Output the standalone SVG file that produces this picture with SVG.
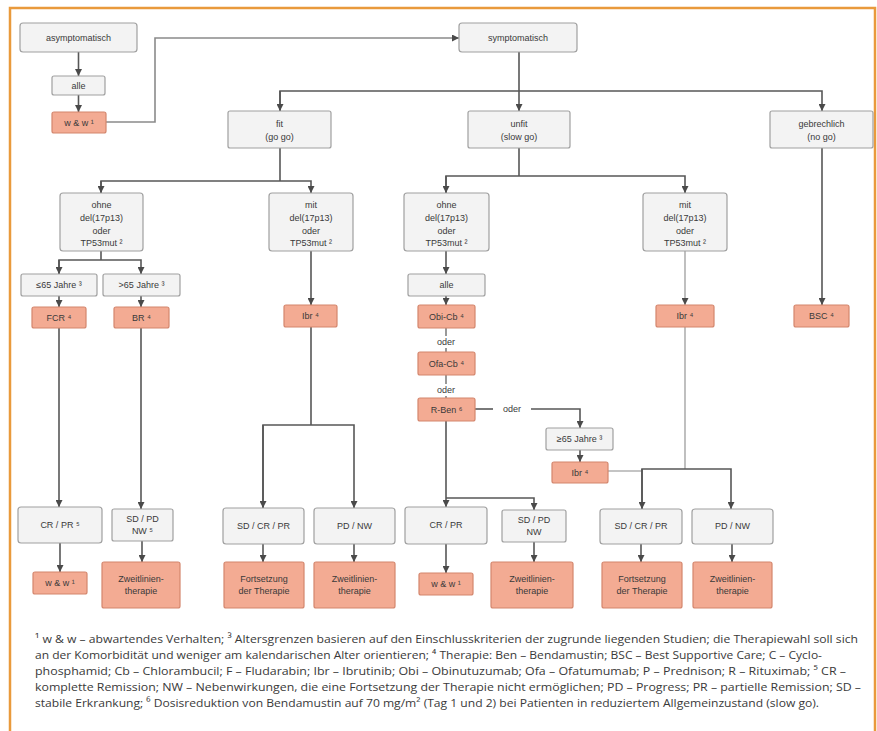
<svg xmlns="http://www.w3.org/2000/svg" width="877" height="731" viewBox="0 0 877 731">
<style>
.g{fill:#f3f3f3;stroke:#a0a0a0;stroke-width:1.2}
.s{fill:#f3ab93;stroke:#d4866d;stroke-width:1.2}
.t{font-family:"Liberation Sans",Arial,sans-serif;font-size:9px;fill:#3a3a3a;text-anchor:middle}
.c{fill:none;stroke:#575757;stroke-width:1.6}
.l{fill:none;stroke:#b0b0b0;stroke-width:1.6}
.fn{font-family:"Open Sans","Liberation Sans",sans-serif;font-size:11.6px;fill:#3a3a3a}
</style>
<defs>
<marker id="a" viewBox="0 0 8 8" refX="8" refY="4" markerWidth="7" markerHeight="7" markerUnits="userSpaceOnUse" orient="auto">
<path d="M0,0 L8,4 L0,8 z" fill="#4a4a4a"/>
</marker>
</defs>
<rect width="877" height="731" fill="#ffffff"/>
<path d="M10,731 V8 H875 V731" fill="none" stroke="#e99a3c" stroke-width="2.5"/>

<g id="connectors">
<path class="c" d="M78.5,52 V76" marker-end="url(#a)"/>
<path class="c" d="M78.5,95 V112" marker-end="url(#a)"/>
<path class="l" style="stroke:#8a8a8a" d="M106,122 H155 V38 H459" marker-end="url(#a)"/>
<path class="c" d="M519,52 V111" marker-end="url(#a)"/>
<path class="c" d="M280,111 V91 H822 V111" marker-end="url(#a)"/>
<path class="c" d="M280,91 V111" marker-end="url(#a)"/>
<path class="c" d="M280,148 V181"/>
<path class="c" d="M101,193 V181 H311 V193" marker-end="url(#a)"/>
<path class="c" d="M101,181 V193" marker-end="url(#a)"/>
<path class="c" d="M101,251 V260"/>
<path class="c" d="M59,274 V260 H141 V274" marker-end="url(#a)"/>
<path class="c" d="M59,260 V274" marker-end="url(#a)"/>
<path class="c" d="M59,296 V307" marker-end="url(#a)"/>
<path class="c" d="M141,296 V307" marker-end="url(#a)"/>
<path class="c" d="M59,328 V507" marker-end="url(#a)"/>
<path class="c" d="M141,328 V509" marker-end="url(#a)"/>
<path class="c" d="M60,543 V572" marker-end="url(#a)"/>
<path class="c" d="M142,541 V562" marker-end="url(#a)"/>
<path class="c" d="M311,251 V305" marker-end="url(#a)"/>
<path class="c" d="M311,327 V425"/>
<path class="c" d="M263,508 V425 H354 V508" marker-end="url(#a)"/>
<path class="c" d="M263,425 V508" marker-end="url(#a)"/>
<path class="c" d="M263,544 V562" marker-end="url(#a)"/>
<path class="c" d="M354,544 V562" marker-end="url(#a)"/>
<path class="c" d="M519,148 V176"/>
<path class="c" d="M446,193 V176 H685 V193" marker-end="url(#a)"/>
<path class="c" d="M446,176 V193" marker-end="url(#a)"/>
<path class="c" d="M446,251 V274" marker-end="url(#a)"/>
<path class="c" d="M446,296 V305" marker-end="url(#a)"/>
<path class="c" style="stroke-width:1.2" d="M446,328 V336 M446,348 V352"/>
<path class="c" style="stroke-width:1.2" d="M446,375 V384 M446,396 V398"/>
<path class="c" d="M475,409 H493"/>
<path class="c" d="M531,409 H580 V428" marker-end="url(#a)"/>
<path class="c" d="M580,450 V462" marker-end="url(#a)"/>
<path class="l" d="M608,471 H642"/>
<path class="c" d="M446,421 V507" marker-end="url(#a)"/>
<path class="c" d="M446,498 H534 V510" marker-end="url(#a)"/>
<path class="c" d="M446,544 V573" marker-end="url(#a)"/>
<path class="c" d="M534,542 V562" marker-end="url(#a)"/>
<path class="l" d="M685,251 V305" marker-end="url(#a)"/>
<path class="l" d="M685,327 V469"/>
<path class="c" d="M642,509 V469 H731 V509" marker-end="url(#a)"/>
<path class="c" d="M642,469 V509" marker-end="url(#a)"/>
<path class="c" d="M641,544 V562" marker-end="url(#a)"/>
<path class="c" d="M732,544 V562" marker-end="url(#a)"/>
<path class="c" d="M822,148 V305" marker-end="url(#a)"/>
<text class="t" x="446" y="345">oder</text>
<text class="t" x="446" y="393">oder</text>
<text class="t" x="512" y="412">oder</text>
</g>

<g id="n_asym"><rect class="g" x="20" y="23" width="117" height="29" rx="3"/><text class="t" x="78.5" y="41">asymptomatisch</text></g>
<g id="n_alle1"><rect class="g" x="52" y="76" width="53" height="19" rx="2"/><text class="t" x="78.5" y="89">alle</text></g>
<g id="n_ww1"><rect class="s" x="52" y="112" width="54" height="21" rx="2"/><text class="t" x="79" y="126">w &amp; w ¹</text></g>
<g id="n_sym"><rect class="g" x="459" y="23" width="118" height="29" rx="3"/><text class="t" x="518" y="41">symptomatisch</text></g>
<g id="n_fit"><rect class="g" x="228" y="111" width="103" height="37" rx="2"/><text class="t" x="279.5" y="127">fit</text><text class="t" x="279.5" y="140">(go go)</text></g>
<g id="n_unfit"><rect class="g" x="468" y="111" width="102" height="37" rx="2"/><text class="t" x="519" y="127">unfit</text><text class="t" x="519" y="140">(slow go)</text></g>
<g id="n_frail"><rect class="g" x="770" y="111" width="103" height="37" rx="2"/><text class="t" x="821.5" y="127">gebrechlich</text><text class="t" x="821.5" y="140">(no go)</text></g>

<g id="n_fit_ohne"><rect class="g" x="60" y="193" width="83" height="58" rx="3"/><text class="t" x="101.5" y="208">ohne</text><text class="t" x="101.5" y="221">del(17p13)</text><text class="t" x="101.5" y="234">oder</text><text class="t" x="101.5" y="246">TP53mut ²</text></g>
<g id="n_fit_mit"><rect class="g" x="269" y="193" width="84" height="58" rx="3"/><text class="t" x="311" y="208">mit</text><text class="t" x="311" y="221">del(17p13)</text><text class="t" x="311" y="234">oder</text><text class="t" x="311" y="246">TP53mut ²</text></g>
<g id="n_unfit_ohne"><rect class="g" x="404" y="193" width="85" height="58" rx="3"/><text class="t" x="446.5" y="208">ohne</text><text class="t" x="446.5" y="221">del(17p13)</text><text class="t" x="446.5" y="234">oder</text><text class="t" x="446.5" y="246">TP53mut ²</text></g>
<g id="n_unfit_mit"><rect class="g" x="643" y="193" width="84" height="58" rx="3"/><text class="t" x="685" y="208">mit</text><text class="t" x="685" y="221">del(17p13)</text><text class="t" x="685" y="234">oder</text><text class="t" x="685" y="246">TP53mut ²</text></g>

<g id="n_le65"><rect class="g" x="21" y="274" width="76" height="22" rx="2"/><text class="t" x="59" y="288">≤65 Jahre ³</text></g>
<g id="n_gt65"><rect class="g" x="103" y="274" width="77" height="22" rx="2"/><text class="t" x="141.5" y="288">&gt;65 Jahre ³</text></g>
<g id="n_fcr"><rect class="s" x="32" y="307" width="54" height="21" rx="2"/><text class="t" x="59" y="321">FCR ⁴</text></g>
<g id="n_br"><rect class="s" x="114" y="307" width="55" height="21" rx="2"/><text class="t" x="141.5" y="321">BR ⁴</text></g>
<g id="n_ibr1"><rect class="s" x="284" y="305" width="53" height="22" rx="2"/><text class="t" x="310.5" y="319">Ibr ⁴</text></g>
<g id="n_alle2"><rect class="g" x="408" y="274" width="77" height="22" rx="2"/><text class="t" x="446.5" y="288">alle</text></g>
<g id="n_obi"><rect class="s" x="418" y="305" width="57" height="23" rx="2"/><text class="t" x="446.5" y="320">Obi-Cb ⁴</text></g>
<g id="n_ofa"><rect class="s" x="418" y="352" width="57" height="23" rx="2"/><text class="t" x="446.5" y="367">Ofa-Cb ⁴</text></g>
<g id="n_rben"><rect class="s" x="418" y="398" width="57" height="23" rx="2"/><text class="t" x="446.5" y="413">R-Ben ⁶</text></g>
<g id="n_ge65"><rect class="g" x="546" y="428" width="67" height="22" rx="2"/><text class="t" x="579.5" y="442">≥65 Jahre ³</text></g>
<g id="n_ibr2"><rect class="s" x="552" y="462" width="56" height="21" rx="2"/><text class="t" x="580" y="476">Ibr ⁴</text></g>
<g id="n_ibr3"><rect class="s" x="656" y="305" width="58" height="22" rx="2"/><text class="t" x="685" y="319">Ibr ⁴</text></g>
<g id="n_bsc"><rect class="s" x="794" y="305" width="55" height="22" rx="2"/><text class="t" x="821.5" y="319">BSC ⁴</text></g>

<g id="n_crpr1"><rect class="g" x="18" y="507" width="84" height="36" rx="3"/><text class="t" x="60" y="528">CR / PR ⁵</text></g>
<g id="n_sdpd1"><rect class="g" x="112" y="509" width="61" height="32" rx="2"/><text class="t" x="142.5" y="522">SD / PD</text><text class="t" x="142.5" y="534">NW ⁵</text></g>
<g id="n_ww2"><rect class="s" x="33" y="572" width="54" height="22" rx="2"/><text class="t" x="60" y="586">w &amp; w ¹</text></g>
<g id="n_zweit1"><rect class="s" x="102" y="562" width="78" height="46" rx="2"/><text class="t" x="141" y="582">Zweitlinien-</text><text class="t" x="141" y="594">therapie</text></g>

<g id="n_sdcrpr1"><rect class="g" x="223" y="508" width="81" height="36" rx="3"/><text class="t" x="263.5" y="529">SD / CR / PR</text></g>
<g id="n_pdnw1"><rect class="g" x="314" y="508" width="81" height="36" rx="3"/><text class="t" x="354.5" y="529">PD / NW</text></g>
<g id="n_fort1"><rect class="s" x="224" y="562" width="80" height="46" rx="2"/><text class="t" x="264" y="582">Fortsetzung</text><text class="t" x="264" y="594">der Therapie</text></g>
<g id="n_zweit2"><rect class="s" x="314" y="562" width="81" height="46" rx="2"/><text class="t" x="354.5" y="582">Zweitlinien-</text><text class="t" x="354.5" y="594">therapie</text></g>

<g id="n_crpr2"><rect class="g" x="405" y="507" width="82" height="37" rx="3"/><text class="t" x="446" y="528">CR / PR</text></g>
<g id="n_sdpd2"><rect class="g" x="502" y="510" width="64" height="32" rx="2"/><text class="t" x="534" y="523">SD / PD</text><text class="t" x="534" y="535">NW</text></g>
<g id="n_ww3"><rect class="s" x="419" y="573" width="54" height="22" rx="2"/><text class="t" x="446" y="587">w &amp; w ¹</text></g>
<g id="n_zweit3"><rect class="s" x="491" y="562" width="82" height="46" rx="2"/><text class="t" x="532" y="582">Zweitlinien-</text><text class="t" x="532" y="594">therapie</text></g>

<g id="n_sdcrpr2"><rect class="g" x="600" y="509" width="82" height="35" rx="3"/><text class="t" x="641" y="529">SD / CR / PR</text></g>
<g id="n_pdnw2"><rect class="g" x="692" y="509" width="81" height="35" rx="3"/><text class="t" x="732.5" y="529">PD / NW</text></g>
<g id="n_fort2"><rect class="s" x="602" y="562" width="80" height="46" rx="2"/><text class="t" x="642" y="582">Fortsetzung</text><text class="t" x="642" y="594">der Therapie</text></g>
<g id="n_zweit4"><rect class="s" x="693" y="562" width="79" height="46" rx="2"/><text class="t" x="732.5" y="582">Zweitlinien-</text><text class="t" x="732.5" y="594">therapie</text></g>

<g id="footnotes">
<text class="fn" x="35" y="643" textLength="823" lengthAdjust="spacingAndGlyphs">¹ w &amp; w – abwartendes Verhalten; ³ Altersgrenzen basieren auf den Einschlusskriterien der zugrunde liegenden Studien; die Therapiewahl soll sich</text>
<text class="fn" x="35" y="659" textLength="787" lengthAdjust="spacingAndGlyphs">an der Komorbidität und weniger am kalendarischen Alter orientieren; ⁴ Therapie: Ben – Bendamustin; BSC – Best Supportive Care; C – Cyclo-</text>
<text class="fn" x="35" y="675" textLength="811" lengthAdjust="spacingAndGlyphs">phosphamid; Cb – Chlorambucil; F – Fludarabin; Ibr – Ibrutinib; Obi – Obinutuzumab; Ofa – Ofatumumab; P – Prednison; R – Rituximab; ⁵ CR –</text>
<text class="fn" x="35" y="691" textLength="826" lengthAdjust="spacingAndGlyphs">komplette Remission; NW – Nebenwirkungen, die eine Fortsetzung der Therapie nicht ermöglichen; PD – Progress; PR – partielle Remission; SD –</text>
<text class="fn" x="35" y="707" textLength="784" lengthAdjust="spacingAndGlyphs">stabile Erkrankung; ⁶ Dosisreduktion von Bendamustin auf 70 mg/m² (Tag 1 und 2) bei Patienten in reduziertem Allgemeinzustand (slow go).</text>
</g>
</svg>
